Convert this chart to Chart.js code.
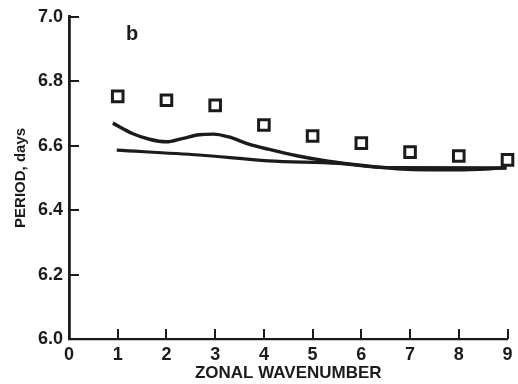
<!DOCTYPE html>
<html>
<head>
<meta charset="utf-8">
<script src="https://cdn.jsdelivr.net/npm/chart.js@4"></script>
<style>
  html, body { margin: 0; padding: 0; background: #fff; }
  #wrap { width: 518px; height: 384px; }
</style>
</head>
<body>
<div id="wrap"><canvas id="myChart" width="518" height="384"></canvas></div>
<script>
// observed periods at each wavenumber (squares)
const wavenumbers = [1, 2, 3, 4, 5, 6, 7, 8, 9];
const observedPeriod = [6.753, 6.741, 6.725, 6.664, 6.630, 6.608, 6.580, 6.568, 6.556];

// upper model curve
const upperX = [0.9, 1.3, 1.65, 2.0, 2.32, 2.67, 2.97, 3.28, 3.69, 4.09, 4.7, 5.32, 6.13, 6.74, 7.35, 7.96, 8.98];
const upperY = [6.670, 6.638, 6.620, 6.612, 6.622, 6.634, 6.636, 6.627, 6.605, 6.589, 6.568, 6.552, 6.537, 6.528, 6.525, 6.525, 6.531];

// lower model curve
const lowerX = [0.98, 2.67, 4.09, 5.52, 6.54, 8.98];
const lowerY = [6.586, 6.571, 6.553, 6.545, 6.532, 6.531];

const xTicks = [1, 2, 3, 4, 5, 6, 7, 8, 9];
const yTicks = [6.2, 6.4, 6.6, 6.8, 7.0];

const ink = "#1b1b1b";
const fontFamily = "'Liberation Sans', Arial, sans-serif";
const toPoints = (xs, ys) => xs.map((x, i) => ({ x: x, y: ys[i] }));

// tick marks drawn on the inside of the axes
const innerTicks = {
  id: "innerTicks",
  afterDraw(chart) {
    const c = chart.ctx;
    const xs = chart.scales.x;
    const ys = chart.scales.y;
    const base = Math.round(ys.getPixelForValue(6.0));
    const left = Math.round(xs.getPixelForValue(0));
    c.save();
    c.fillStyle = ink;
    xTicks.forEach((v) => {
      const px = Math.round(xs.getPixelForValue(v));
      c.fillRect(px - 1, base - 10, 2, 10);
    });
    yTicks.forEach((v) => {
      const py = Math.round(ys.getPixelForValue(v));
      c.fillRect(left, py - 1, 10, 2);
    });
    // panel letter
    c.font = "bold 20px " + fontFamily;
    c.textBaseline = "alphabetic";
    c.fillText("b", 126, 40);
    c.restore();
  },
};

const ctx = document.getElementById("myChart").getContext("2d");
const myChart = new Chart(ctx, {
  type: "scatter",
  data: {
    datasets: [
      {
        data: toPoints(upperX, upperY),
        showLine: true,
        borderColor: ink,
        borderWidth: 3.4,
        pointRadius: 0,
        cubicInterpolationMode: "monotone",
        clip: false,
      },
      {
        data: toPoints(lowerX, lowerY),
        showLine: true,
        borderColor: ink,
        borderWidth: 3.2,
        pointRadius: 0,
        cubicInterpolationMode: "monotone",
        clip: false,
      },
      {
        data: toPoints(wavenumbers, observedPeriod),
        pointStyle: "rect",
        pointRadius: 7.5,
        pointBorderWidth: 3,
        pointBorderColor: ink,
        pointBackgroundColor: "#fff",
        clip: false,
      },
      {
        data: toPoints(wavenumbers, observedPeriod),
        pointStyle: "circle",
        pointRadius: 1.4,
        pointBorderWidth: 0,
        pointBackgroundColor: ink,
        clip: false,
      },
    ],
  },
  options: {
    responsive: false,
    animation: false,
    layout: { padding: { top: 15, right: 7, left: 0, bottom: 0 } },
    plugins: {
      legend: { display: false },
      tooltip: { enabled: false },
    },
    scales: {
      x: {
        type: "linear",
        min: 0,
        max: 9,
        grid: { display: false, drawTicks: false },
        border: { display: true, color: ink, width: 2.2 },
        ticks: {
          stepSize: 1,
          padding: 5,
          color: ink,
          font: { family: fontFamily, size: 18, weight: "bold" },
        },
        title: {
          display: true,
          text: "ZONAL WAVENUMBER",
          color: ink,
          padding: { top: 0, bottom: 0 },
          font: { family: fontFamily, size: 17, weight: "bold" },
        },
        afterFit: (scale) => {
          scale.height = 45;
        },
      },
      y: {
        min: 6.0,
        max: 7.0,
        grid: { display: false, drawTicks: false },
        border: { display: true, color: ink, width: 2.8 },
        ticks: {
          stepSize: 0.2,
          padding: 6,
          color: ink,
          callback: (v) => v.toFixed(1),
          font: { family: fontFamily, size: 18, weight: "bold" },
        },
        title: {
          display: true,
          text: "PERIOD, days",
          color: ink,
          padding: { top: 12, bottom: 0 },
          font: { family: fontFamily, size: 15, weight: "bold" },
        },
        afterFit: (scale) => {
          scale.width = 69;
        },
      },
    },
  },
  plugins: [innerTicks],
});
</script>
</body>
</html>
